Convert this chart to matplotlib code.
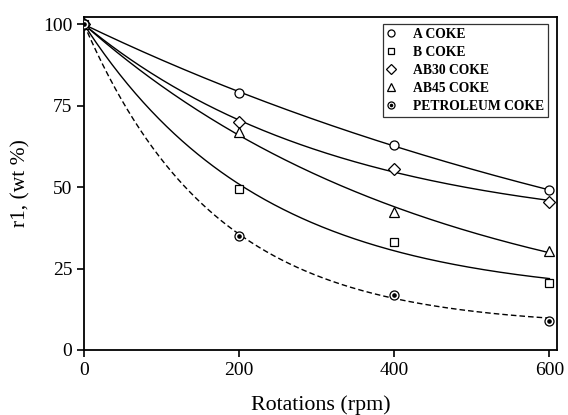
import numpy as np
import matplotlib.pyplot as plt

plt.rcParams['font.family'] = ['Liberation Serif', 'DejaVu Serif']

# data
rpm = [0, 200, 400, 600]
a_coke = [100, 79, 63, 49]
b_coke = [100, 49.5, 33, 20.5]
ab30_coke = [100, 70, 55.5, 45.5]
ab45_coke = [100, 67, 42.5, 30.5]
pet_coke = [100, 35, 17, 9]

labels = ['A COKE', 'B COKE', 'AB30 COKE', 'AB45 COKE', 'PETROLEUM COKE']
series = [a_coke, b_coke, ab30_coke, ab45_coke, pet_coke]
markers = ['o', 's', 'D', '^', 'o']
msizes = [6.5, 5.8, 6.2, 6.5, 6.5]


def fit_decay(x, y):
    # y = c + (100 - c) * exp(-k x), least squares via grid on k
    x = np.asarray(x, float)
    y = np.asarray(y, float)
    best = None
    for k in np.linspace(0.0005, 0.03, 3000):
        e = np.exp(-k * x)
        u = 1 - e
        c = np.sum(u * (y - 100 * e)) / np.sum(u * u)
        err = np.sum((c + (100 - c) * e - y) ** 2)
        if best is None or err < best[0]:
            best = (err, k, c)
    return best[1], best[2]


fig = plt.figure(figsize=(5.68, 4.15), dpi=100)
ax = fig.add_axes([0.148, 0.157, 0.833, 0.802])

xs = np.linspace(0, 600, 300)
handles = []
for i, (ys, lab, m, ms) in enumerate(zip(series, labels, markers, msizes)):
    k, c = fit_decay(rpm, ys)
    ls = '--' if i == 4 else '-'
    ax.plot(xs, c + (100 - c) * np.exp(-k * xs), color='black', lw=1.0, ls=ls,
            dashes=(4, 2.2) if i == 4 else (None, None), zorder=2)
    h, = ax.plot(rpm, ys, ls='none', marker=m, ms=ms, mfc='white', mec='black',
                 mew=0.9, label=lab, zorder=3)
    if i == 4:
        ax.plot(rpm, ys, ls='none', marker='o', ms=2.3, color='black', zorder=4)
        dot, = ax.plot([], [], ls='none', marker='o', ms=2.0, color='black')
        h = (h, dot)
    handles.append(h)

ax.set_xlim(0, 610)
ax.set_ylim(0, 102.3)
ax.set_xticks([0, 200, 400, 600])
ax.set_yticks([0, 25, 50, 75, 100])
ax.tick_params(direction='out', length=5, width=1.2, labelsize=14, top=False, right=False)
for s in ax.spines.values():
    s.set_linewidth(1.3)

ax.set_xlabel('Rotations (rpm)', fontsize=15.8, labelpad=12)
ax.set_ylabel('r1, (wt %)', fontsize=15.5, labelpad=9)

leg = ax.legend(handles, labels, loc='upper right', bbox_to_anchor=(0.981, 0.979),
                prop={'weight': 'bold', 'size': 9.8}, frameon=True, fancybox=False,
                edgecolor='black', handlelength=0.6, handletextpad=1.3,
                labelspacing=0.36, borderpad=0.3, markerscale=0.78,
                borderaxespad=0)
leg.get_frame().set_linewidth(0.9)

fig.savefig('out.png', dpi=100)
